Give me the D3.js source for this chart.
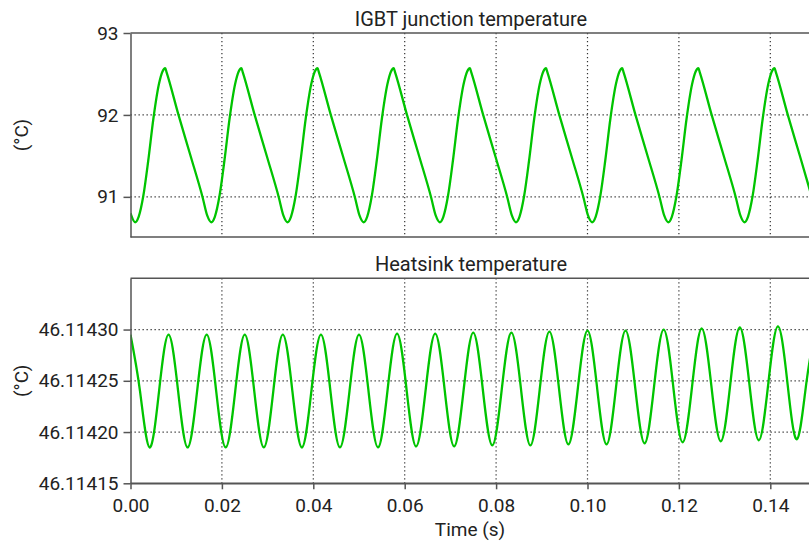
<!DOCTYPE html>
<html>
<head>
<meta charset="utf-8">
<script src="https://cdn.jsdelivr.net/npm/d3@7"></script>
<style>
  body { margin: 0; background: #fff; }
  svg { display: block; font-family: Roboto, "DejaVu Sans", sans-serif; }
</style>
</head>
<body>
<svg id="chart" width="809" height="542"></svg>
<script>
// values
const timeTicks = [0, 0.02, 0.04, 0.06, 0.08, 0.10, 0.12, 0.14];
const junctionTicks = [91, 92, 93];
const heatsinkTicks = [46.11415, 46.11420, 46.11425, 46.11430];

const junctionTime = [0,
  0.00100, 0.00180, 0.00280, 0.00390, 0.00500, 0.00620, 0.00700, 0.00760, 0.00790, 0.01050, 0.01320, 0.01580, 0.01680,
  0.01767, 0.01847, 0.01947, 0.02057, 0.02167, 0.02287, 0.02367, 0.02427, 0.02457, 0.02717, 0.02987, 0.03247, 0.03347,
  0.03433, 0.03513, 0.03613, 0.03723, 0.03833, 0.03953, 0.04033, 0.04093, 0.04123, 0.04383, 0.04653, 0.04913, 0.05013,
  0.05100, 0.05180, 0.05280, 0.05390, 0.05500, 0.05620, 0.05700, 0.05760, 0.05790, 0.06050, 0.06320, 0.06580, 0.06680,
  0.06767, 0.06847, 0.06947, 0.07057, 0.07167, 0.07287, 0.07367, 0.07427, 0.07457, 0.07717, 0.07987, 0.08247, 0.08347,
  0.08433, 0.08513, 0.08613, 0.08723, 0.08833, 0.08953, 0.09033, 0.09093, 0.09123, 0.09383, 0.09653, 0.09913, 0.10013,
  0.10100, 0.10180, 0.10280, 0.10390, 0.10500, 0.10620, 0.10700, 0.10760, 0.10790, 0.11050, 0.11320, 0.11580, 0.11680,
  0.11767, 0.11847, 0.11947, 0.12057, 0.12167, 0.12287, 0.12367, 0.12427, 0.12457, 0.12717, 0.12987, 0.13247, 0.13347,
  0.13433, 0.13513, 0.13613, 0.13723, 0.13833, 0.13953, 0.14033, 0.14093, 0.14123, 0.14383, 0.14653, 0.14913];
const junctionTemp = [90.80,
  90.69, 90.76, 91.01, 91.45, 91.95, 92.37, 92.53, 92.57, 92.52, 92.00, 91.49, 90.99, 90.77,
  90.69, 90.76, 91.01, 91.45, 91.95, 92.37, 92.53, 92.57, 92.52, 92.00, 91.49, 90.99, 90.77,
  90.69, 90.76, 91.01, 91.45, 91.95, 92.37, 92.53, 92.57, 92.52, 92.00, 91.49, 90.99, 90.77,
  90.69, 90.76, 91.01, 91.45, 91.95, 92.37, 92.53, 92.57, 92.52, 92.00, 91.49, 90.99, 90.77,
  90.69, 90.76, 91.01, 91.45, 91.95, 92.37, 92.53, 92.57, 92.52, 92.00, 91.49, 90.99, 90.77,
  90.69, 90.76, 91.01, 91.45, 91.95, 92.37, 92.53, 92.57, 92.52, 92.00, 91.49, 90.99, 90.77,
  90.69, 90.76, 91.01, 91.45, 91.95, 92.37, 92.53, 92.57, 92.52, 92.00, 91.49, 90.99, 90.77,
  90.69, 90.76, 91.01, 91.45, 91.95, 92.37, 92.53, 92.57, 92.52, 92.00, 91.49, 90.99, 90.77,
  90.69, 90.76, 91.01, 91.45, 91.95, 92.37, 92.53, 92.57, 92.52, 92.00, 91.49, 90.99];

const heatsinkTime = [
  0, 0.00208, 0.00417, 0.00625, 0.00833, 0.01042, 0.0125, 0.01458, 0.01667, 0.01875,
  0.02083, 0.02292, 0.025, 0.02708, 0.02917, 0.03125, 0.03333, 0.03542, 0.0375, 0.03958,
  0.04167, 0.04375, 0.04583, 0.04792, 0.05, 0.05208, 0.05417, 0.05625, 0.05833, 0.06042,
  0.0625, 0.06458, 0.06667, 0.06875, 0.07083, 0.07292, 0.075, 0.07708, 0.07917, 0.08125,
  0.08333, 0.08542, 0.0875, 0.08958, 0.09167, 0.09375, 0.09583, 0.09792, 0.1, 0.10208,
  0.10417, 0.10625, 0.10833, 0.11042, 0.1125, 0.11458, 0.11667, 0.11875, 0.12083, 0.12292,
  0.125, 0.12708, 0.12917, 0.13125, 0.13333, 0.13542, 0.1375, 0.13958, 0.14167, 0.14375,
  0.14583, 0.14792, 0.15];
const heatsinkTemp = [
  46.114295, 46.114240, 46.114185, 46.114240, 46.114295, 46.114240, 46.114185, 46.114240, 46.114295, 46.114240,
  46.114185, 46.114240, 46.114295, 46.114240, 46.114185, 46.114240, 46.114295, 46.114240, 46.114185, 46.114240,
  46.114295, 46.114240, 46.114185, 46.114240, 46.114295, 46.114240, 46.114185, 46.114241, 46.114296, 46.114241,
  46.114186, 46.114241, 46.114296, 46.114241, 46.114186, 46.114242, 46.114297, 46.114242, 46.114187, 46.114242,
  46.114297, 46.114243, 46.114187, 46.114243, 46.114298, 46.114243, 46.114188, 46.114244, 46.114299, 46.114244,
  46.114188, 46.114244, 46.114299, 46.114244, 46.114189, 46.114245, 46.114300, 46.114245, 46.114190, 46.114246,
  46.114301, 46.114246, 46.114191, 46.114247, 46.114302, 46.114247, 46.114192, 46.114248, 46.114303, 46.114248,
  46.114193, 46.114249, 46.114304];

const W = 809;
const lineColor = "#00c400";
const textColor = "#222";
const frameColor = "#555";

const svg = d3.select("#chart");
const x = d3.scaleLinear().domain([0, 0.15]).range([130.5, 816]);

function drawPanel(y, ticks, fmt, title, times, temps, curve, id) {
  const [y0, y1] = y.range();   // bottom, top
  const g = svg.append("g");

  // dotted grid
  g.selectAll(".vgrid").data(timeTicks.slice(1)).enter().append("line")
    .attr("x1", d => x(d)).attr("x2", d => x(d))
    .attr("y1", y1).attr("y2", y0)
    .attr("stroke", "#333").attr("stroke-width", 1.2)
    .attr("stroke-dasharray", "1.3,2.7");
  g.selectAll(".hgrid").data(ticks.filter(t => y(t) > y1 + 1 && y(t) < y0 - 1)).enter().append("line")
    .attr("x1", x.range()[0]).attr("x2", W)
    .attr("y1", d => y(d)).attr("y2", d => y(d))
    .attr("stroke", "#333").attr("stroke-width", 1.2)
    .attr("stroke-dasharray", "1.3,2.7");

  // frame lines
  g.append("line").attr("x1", x.range()[0]).attr("x2", W)
    .attr("y1", y1).attr("y2", y1).attr("stroke", frameColor).attr("stroke-width", 1.5);
  g.append("line").attr("x1", x.range()[0]).attr("x2", W)
    .attr("y1", y0).attr("y2", y0).attr("stroke", frameColor).attr("stroke-width", 1.5);

  // clip + line
  svg.append("clipPath").attr("id", id)
    .append("rect").attr("x", x.range()[0]).attr("y", y1).attr("width", W - x.range()[0]).attr("height", y0 - y1);
  const data = times.map((t, i) => [t, temps[i]]);
  const line = d3.line().x(d => x(d[0])).y(d => y(d[1])).curve(curve);
  g.append("path").datum(data)
    .attr("clip-path", `url(#${id})`)
    .attr("fill", "none").attr("stroke", lineColor)
    .attr("stroke-width", 2.3).attr("stroke-linejoin", "round")
    .attr("d", line);

  // y axis
  const ax = g.append("g").attr("transform", `translate(${x.range()[0]},0)`)
    .call(d3.axisLeft(y).tickValues(ticks).tickFormat(fmt).tickSize(7).tickSizeOuter(0).tickPadding(5));
  ax.attr("font-family", null).attr("font-size", 19);
  ax.select(".domain").attr("stroke", frameColor).attr("stroke-width", 1.5);
  ax.selectAll(".tick line").attr("stroke", frameColor).attr("stroke-width", 1.5);
  ax.selectAll(".tick text").attr("fill", textColor);

  // title + unit label
  g.append("text").attr("x", 471).attr("y", y1 - 7)
    .attr("text-anchor", "middle").attr("font-size", 20).attr("fill", textColor)
    .text(title);
  g.append("text")
    .attr("transform", `translate(28,${(y0 + y1) / 2}) rotate(-90)`)
    .attr("text-anchor", "middle").attr("font-size", 19).attr("fill", textColor)
    .text("(°C)");
}

const yTop = d3.scaleLinear().domain([90.51, 93]).range([237, 33]);
const yBot = d3.scaleLinear().domain([46.11415, 46.11435]).range([483.3, 278.3]);

drawPanel(yTop, junctionTicks, d3.format("d"), "IGBT junction temperature",
  junctionTime, junctionTemp, d3.curveMonotoneX, "clipTop");
drawPanel(yBot, heatsinkTicks, d3.format(".5f"), "Heatsink temperature",
  heatsinkTime, heatsinkTemp, d3.curveNatural, "clipBot");

// time axis under the lower panel
const xa = svg.append("g").attr("transform", `translate(0,${yBot.range()[0]})`)
  .call(d3.axisBottom(x).tickValues(timeTicks).tickFormat(d3.format(".2f")).tickSize(6).tickSizeOuter(0).tickPadding(9));
xa.attr("font-family", null).attr("font-size", 19);
xa.select(".domain").attr("stroke", frameColor).attr("stroke-width", 1.5);
xa.selectAll(".tick line").attr("stroke", frameColor).attr("stroke-width", 1.5);
xa.selectAll(".tick text").attr("fill", textColor);

svg.append("text").attr("x", 470).attr("y", 536)
  .attr("text-anchor", "middle").attr("font-size", 19).attr("fill", textColor)
  .text("Time (s)");
</script>
</body>
</html>
